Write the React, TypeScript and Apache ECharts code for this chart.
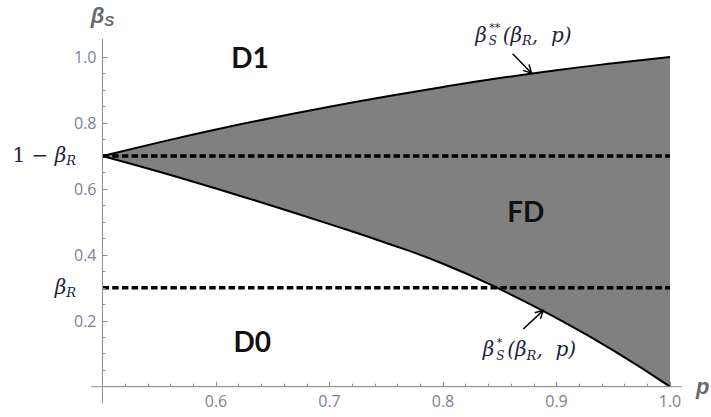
import React, { useEffect, useRef } from 'react';
import * as echarts from 'echarts';

// ---- data ----
const pValues = [0.5, 0.55, 0.6, 0.65, 0.7, 0.75, 0.8, 0.85, 0.9, 0.95, 1.0];
const upperValues = [0.7, 0.741, 0.78, 0.816, 0.849, 0.88, 0.909, 0.936, 0.96, 0.981, 1.0];
const lowerValues = [0.7, 0.652, 0.601, 0.548, 0.493, 0.436, 0.373, 0.296, 0.208, 0.11, 0.0];
const levelValues = [0.7, 0.3];
const levelLabels = ['{n|1 − }{i|β}{sub|R}', '{i|β}{sub|R}'];
const regionLabels = ['D1', 'FD', 'D0'];
const upperNote = { sup: '**', sub: 'S', rest: '{i|(β}{sub|R}{i|,  p)}' };
const lowerNote = { sup: '*', sub: 'S', rest: '{i|(β}{sub|R}{i|,  p)}' };

// annotation anchors (data coordinates)
const regionAnchors = [
  [0.63, 0.999],
  [0.873, 0.533],
  [0.632, 0.139],
];
const upperArrow = { tail: [0.8614, 1.0097], tip: [0.878, 0.951] };
const lowerArrow = { tail: [0.8707, 0.175], tip: [0.8884, 0.2315] };
const axisExtent = { xFrom: 0.49, xTo: 1.0106, yFrom: -0.05, yTo: 1.055 };

const AXIS_COLOR = '#8f8f8f';
const LABEL_COLOR = '#7a8294';
const MATH_COLOR = '#1e2440';
const NAME_COLOR = '#6a6a72';
const FILL_COLOR = '#808080';
const MATH_FONT = 'DejaVu Serif';

const mathRich = {
  i: { fontFamily: MATH_FONT, fontStyle: 'italic', fontSize: 20, fill: MATH_COLOR },
  n: { fontFamily: MATH_FONT, fontSize: 20, fill: MATH_COLOR },
  sub: { fontFamily: MATH_FONT, fontStyle: 'italic', fontSize: 13, fill: MATH_COLOR, padding: [12, 0, 0, 0] },
};

const pairs = (ys: number[]) => pValues.map((p, i) => [p, ys[i]]);

export default function App() {
  const ref = useRef<HTMLDivElement>(null);
  useEffect(() => {
    document.body.style.margin = '0';
    const chart = echarts.init(ref.current!, null, { renderer: 'svg' });
    const axisCommon = {
      type: 'value' as const,
      z: 5,
      axisLine: { show: true, onZero: false, lineStyle: { color: AXIS_COLOR, width: 1 } },
      axisTick: { show: true, inside: true, length: 5, lineStyle: { color: AXIS_COLOR } },
      minorTick: { show: true, length: 3, lineStyle: { color: AXIS_COLOR } },
      splitLine: { show: false },
      minorSplitLine: { show: false },
    };
    const option: any = {
      animation: false,
      grid: { left: 102.5, right: 41, top: 57, bottom: 30.3, outerBoundsMode: 'none' },
      xAxis: {
        ...axisCommon,
        min: 0.5,
        max: 1.0,
        interval: 0.1,
        minorTick: { ...axisCommon.minorTick, splitNumber: 5 },
        name: 'p',
        nameLocation: 'end',
        nameGap: 26,
        nameTextStyle: {
          fontFamily: 'Liberation Sans',
          fontStyle: 'italic',
          fontWeight: 'bold',
          fontSize: 22,
          color: NAME_COLOR,
          verticalAlign: 'middle',
          padding: [8, 0, 0, 0],
        },
        axisLabel: {
          color: LABEL_COLOR,
          fontFamily: 'Open Sans',
          fontSize: 16,
          margin: 6,
          formatter: (v: number) => (Math.abs(v - 0.5) < 1e-9 ? '' : v.toFixed(1)),
        },
      },
      yAxis: {
        ...axisCommon,
        min: 0,
        max: 1.0,
        interval: 0.2,
        minorTick: { ...axisCommon.minorTick, splitNumber: 4 },
        name: '{b|β}{s|S}',
        nameLocation: 'end',
        nameGap: 29,
        nameTextStyle: {
          rich: {
            b: { fontFamily: 'Liberation Sans', fontStyle: 'italic', fontWeight: 'bold', fontSize: 22, color: NAME_COLOR },
            s: { fontFamily: 'Liberation Sans', fontStyle: 'italic', fontWeight: 'bold', fontSize: 15, color: NAME_COLOR, padding: [10, 0, 0, 0] },
          },
        },
        axisLabel: {
          color: LABEL_COLOR,
          fontFamily: 'Open Sans',
          fontSize: 16,
          margin: 6,
          formatter: (v: number) => (Math.abs(v) < 1e-9 ? '' : v.toFixed(1)),
        },
      },
      series: [
        {
          name: 'upperFill',
          type: 'line',
          data: pairs(upperValues),
          smooth: true,
          symbol: 'none',
          silent: true,
          z: 1,
          lineStyle: { width: 0 },
          areaStyle: { color: FILL_COLOR, opacity: 1, origin: 'start' },
        },
        {
          name: 'lowerMask',
          type: 'line',
          data: pairs(lowerValues),
          smooth: true,
          symbol: 'none',
          silent: true,
          z: 2,
          lineStyle: { width: 0 },
          areaStyle: { color: '#ffffff', opacity: 1, origin: 'start' },
        },
        ...levelValues.map((lv, k) => ({
          name: 'level' + k,
          type: 'line',
          data: [
            [pValues[0], lv],
            [pValues[pValues.length - 1], lv],
          ],
          symbol: 'none',
          silent: true,
          z: 3,
          lineStyle: { color: '#000', width: 3.5, type: [6.5, 3.2], cap: 'butt' },
        })),
        {
          name: 'upper',
          type: 'line',
          data: pairs(upperValues),
          smooth: true,
          symbol: 'none',
          silent: true,
          z: 6,
          lineStyle: { color: '#000', width: 2 },
        },
        {
          name: 'lower',
          type: 'line',
          data: pairs(lowerValues),
          smooth: true,
          symbol: 'none',
          silent: true,
          z: 6,
          lineStyle: { color: '#000', width: 2 },
        },
      ],
    };
    chart.setOption(option);

    const px = (pt: number[]) => chart.convertToPixel({ gridIndex: 0 }, pt) as number[];
    const els: any[] = [];

    // axis line extensions beyond the plotted range
    const o = px([0.5, 0]);
    const xa = px([axisExtent.xFrom, 0]);
    const xb = px([axisExtent.xTo, 0]);
    const ya = px([0.5, axisExtent.yFrom]);
    const yb = px([0.5, axisExtent.yTo]);
    els.push({ type: 'line', z: 50, shape: { x1: xa[0], y1: o[1], x2: xb[0], y2: o[1] }, style: { stroke: AXIS_COLOR, lineWidth: 1 } });
    els.push({ type: 'line', z: 50, shape: { x1: o[0], y1: ya[1], x2: o[0], y2: yb[1] }, style: { stroke: AXIS_COLOR, lineWidth: 1 } });

    // arrows
    const arrow = (a: { tail: number[]; tip: number[] }) => {
      const t = px(a.tail);
      const h = px(a.tip);
      const dx = h[0] - t[0];
      const dy = h[1] - t[1];
      const len = Math.hypot(dx, dy);
      const ux = dx / len;
      const uy = dy / len;
      const L = 9;
      const th = (28 * Math.PI) / 180;
      const rot = (ang: number) => [
        h[0] - L * (ux * Math.cos(ang) - uy * Math.sin(ang)),
        h[1] - L * (ux * Math.sin(ang) + uy * Math.cos(ang)),
      ];
      els.push({ type: 'line', z: 60, shape: { x1: t[0], y1: t[1], x2: h[0], y2: h[1] }, style: { stroke: '#000', lineWidth: 1.5 } });
      els.push({ type: 'polyline', z: 60, shape: { points: [rot(th), h, rot(-th)] }, style: { stroke: '#000', lineWidth: 1.5, fill: null } });
      return t;
    };
    const tu = arrow(upperArrow);
    const tl = arrow(lowerArrow);

    const mathText = (x: number, y: number, text: string, align = 'left') => ({
      type: 'text',
      z: 70,
      x,
      y,
      style: { text, rich: mathRich, align, verticalAlign: 'middle', fill: MATH_COLOR, fontFamily: MATH_FONT, fontSize: 20 },
    });
    const smallText = (x: number, y: number, text: string, size: number) => ({
      type: 'text',
      z: 70,
      x,
      y,
      style: { text, fill: MATH_COLOR, fontFamily: MATH_FONT, fontStyle: 'italic', fontSize: size, align: 'left', verticalAlign: 'middle' },
    });
    // β with stacked super/subscript, then the argument list
    const note = (x0: number, yc: number, n: { sup: string; sub: string; rest: string }, restGap: number) => {
      els.push(mathText(x0 - 1, yc, '{i|β}', 'right'));
      els.push(smallText(x0 + 1.5, yc - 7, n.sup, 11));
      els.push(smallText(x0 + 1, yc + 6.5, n.sub, 12));
      els.push(mathText(x0 + restGap, yc, n.rest));
    };
    note(tu[0] - 25, tu[1] - 19, upperNote, 15);
    note(tl[0] - 28, tl[1] + 20, lowerNote, 12);

    // level labels on the left
    levelValues.forEach((lv, k) => {
      const q = px([0.5, lv]);
      els.push(mathText(q[0] - 26.5, q[1] - 1, levelLabels[k], 'right'));
    });

    // region labels
    regionLabels.forEach((lab, k) => {
      const q = px(regionAnchors[k]);
      els.push({
        type: 'text',
        z: 70,
        x: q[0],
        y: q[1],
        style: { text: lab, fill: '#111', fontFamily: 'Lato', fontWeight: 'bold', fontSize: 28, align: 'center', verticalAlign: 'middle' },
      });
    });

    chart.setOption({ graphic: els });
    return () => chart.dispose();
  }, []);
  return <div ref={ref} style={{ width: 711, height: 417 }} />;
}
